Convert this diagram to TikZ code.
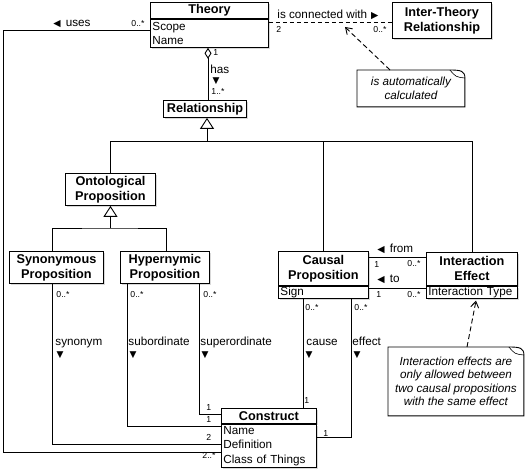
\documentclass[tikz,border=0pt]{standalone}
\usepackage{fontspec}
\setmainfont{Liberation Sans}
\newfontfamily\symfont{DejaVu Sans}
\usetikzlibrary{arrows.meta,shadows,positioning}
\newcommand\trileft{{\symfont\fontsize{9.5}{10}\selectfont ◀}}
\newcommand\triright{{\symfont\fontsize{9.5}{10}\selectfont ▶}}
\newcommand\tridown{{\symfont\fontsize{9}{10}\selectfont ▼}}

\begin{document}
\begin{tikzpicture}[x=1pt,y=-1pt,line width=0.9pt,
    box/.style={draw,fill=white,drop shadow={shadow xshift=2pt,shadow yshift=-2pt,opacity=0.3}},
    classname/.style={box,font=\fontsize{12.7}{15}\selectfont\bfseries,align=center,inner sep=1pt},
    attrs/.style={box,font=\fontsize{11.7}{14.5}\selectfont,align=left,inner xsep=2pt,inner ysep=0.5pt},
    mult/.style={font=\fontsize{8.7}{10}\selectfont,inner sep=0pt,anchor=base west},
    role/.style={font=\fontsize{11.7}{14}\selectfont,inner sep=0pt,anchor=base west},
    ptr/.style={inner sep=0pt},
    note/.style={font=\fontsize{11.7}{13.3}\selectfont\itshape,align=center,inner sep=0pt},
    gen/.style={-{Triangle[open,length=11pt,width=14pt]}},
    dep/.style={dash pattern=on 5pt off 3pt,-{Straight Barb[length=6pt,width=8pt]}},
    assoc/.style={dash pattern=on 4pt off 3pt}]
\useasboundingbox (0,0) rectangle (528,473);

% classes
\node[classname, minimum width=118pt, minimum height=16pt, anchor=north west] (theory) at (150,2) {Theory};
\node[attrs, text width=114pt, minimum height=28pt, anchor=north west] (theory-attr) at (theory.south west) {Scope\\Name};
\node[classname, minimum width=99pt, minimum height=36pt, anchor=north west] (itr) at (392,2) {Inter-Theory\\Relationship};
\node[classname, minimum width=83pt, minimum height=17pt, anchor=north west] (rel) at (163,100) {Relationship};
\node[classname, minimum width=90pt, minimum height=32pt, anchor=north west] (onto) at (65,173) {Ontological\\Proposition};
\node[classname, minimum width=94pt, minimum height=32pt, anchor=north west] (syn) at (9,251) {Synonymous\\Proposition};
\node[classname, minimum width=89pt, minimum height=32pt, anchor=north west] (hyp) at (120,251) {Hypernymic\\Proposition};
\node[classname, minimum width=90pt, minimum height=34pt, anchor=north west] (causal) at (278,251) {Causal\\Proposition};
\node[attrs, text width=86pt, minimum height=12pt, anchor=north west] (causal-attr) at (causal.south west) {Sign};
\node[classname, minimum width=91pt, minimum height=33pt, anchor=north west] (ie) at (426,252) {Interaction\\Effect};
\node[attrs, text width=87pt, minimum height=11.5pt, anchor=north west] (ie-attr) at (ie.south west) {Interaction Type};
\node[classname, minimum width=95pt, minimum height=15pt, anchor=north west] (construct) at (221,408) {Construct};
\node[attrs, text width=91pt, minimum height=43pt, anchor=north west] (construct-attr) at (construct.south west) {Name\\Definition\\Class of Things};

% notes
\node[note, minimum width=107pt, minimum height=36pt, anchor=north west] (note-calc) at (357,70) {};
\draw[fill=white] (note-calc.north west) -- ([xshift=-15pt]note-calc.north east)
  .. controls ([xshift=-4pt]note-calc.north east) and ([yshift=-1pt]note-calc.north east) .. ([yshift=-8pt]note-calc.north east)
  -- (note-calc.south east) -- (note-calc.south west) -- cycle;
\draw[line width=0.6pt] ([xshift=-15pt]note-calc.north east) .. controls ([xshift=-9pt,yshift=-7pt]note-calc.north east) .. ([yshift=-8pt]note-calc.north east);
\node[note] (note-calc-txt) at (note-calc.center) {is automatically\\calculated};
\node[note, minimum width=135pt, minimum height=68pt, anchor=north west] (note-ie) at (388,347) {};
\draw[fill=white] (note-ie.north west) -- ([xshift=-15pt]note-ie.north east)
  .. controls ([xshift=-4pt]note-ie.north east) and ([yshift=-1pt]note-ie.north east) .. ([yshift=-8pt]note-ie.north east)
  -- (note-ie.south east) -- (note-ie.south west) -- cycle;
\draw[line width=0.6pt] ([xshift=-15pt]note-ie.north east) .. controls ([xshift=-9pt,yshift=-7pt]note-ie.north east) .. ([yshift=-8pt]note-ie.north east);
\node[note] (note-ie-txt) at (note-ie.center) {Interaction effects are\\only allowed between\\two causal propositions\\with the same effect};

% connectors
\coordinate (assoc-mid) at (345,27);
\draw[assoc] (theory.east |- 0,22) -- (itr.west |- 0,22);
\draw[dep] (note-calc.north -| 390,0) -- (assoc-mid);
\draw[dep] (note-ie.north -| 467,0) -- ([yshift=-2pt]ie-attr.south -| 476,0);
\draw (theory-attr.west |- 0,30) -| (3,452) -- (construct-attr.west |- 0,452);
\draw[{Diamond[open,length=11pt,width=7pt]}-] (theory-attr.south -| 208,0) -- (rel.north -| 208,0);
\draw[gen] (207,141) -- (rel.south -| 207,0);
\draw (onto.north) |- (ie.north |- 0,141) -- (ie.north);
\draw (causal.north) -- (causal.north |- 0,141);
\draw[gen] (onto.south |- 0,228) -- (onto.south);
\draw (syn.north -| 52,0) |- (onto.south |- 0,228) -| (hyp.north -| 166,0);
\draw (syn.south -| 52,0) |- (construct-attr.west |- 0,444);
\draw (hyp.south -| 127,0) |- (construct-attr.west |- 0,426);
\draw (hyp.south -| 199,0) |- (construct.west |- 0,414);
\draw (causal-attr.south -| 303,0) -- (construct.north -| 303,0);
\draw (causal-attr.south -| 351,0) |- (construct-attr.east |- 0,437);
\draw (causal.east |- 0,257) -- (ie.west |- 0,257);
\draw (causal-attr.east |- 0,288) -- (ie-attr.west |- 0,288);

% labels
\node[role] (uses-lbl) at (53,27) {\trileft\hspace{5pt}uses};
\node[mult] (uses-m1) at (131,27) {0..*};
\node[mult] (has-m1) at (213,56) {1};
\node[role] (has-lbl) at (210,74) {has};
\node[ptr] (has-ptr) at (216,81.5) {\tridown};
\node[mult] (has-m2) at (211,95) {1..*};
\node[role] (conn-lbl) at (277,19) {is connected with\hspace{4pt}\triright};
\node[mult] (conn-m1) at (276,33) {2};
\node[mult] (conn-m2) at (373,33) {0..*};
\node[mult] (syn-m) at (56,298) {0..*};
\node[mult] (sub-m) at (130,298) {0..*};
\node[mult] (sup-m) at (203,298) {0..*};
\node[role] (syn-lbl) at (55,345) {synonym};
\node[role] (sub-lbl) at (128,345) {subordinate};
\node[role] (sup-lbl) at (200,345) {superordinate};
\node[ptr] (syn-ptr) at (60,355) {\tridown};
\node[ptr] (sub-ptr) at (133,355) {\tridown};
\node[ptr] (sup-ptr) at (205,355) {\tridown};
\node[mult] (sup-m2) at (206,410) {1};
\node[mult] (sub-m2) at (206,422) {1};
\node[mult] (syn-m2) at (206,440) {2};
\node[mult] (uses-m2) at (202,458) {2..*};
\node[mult] (cause-m) at (305,311) {0..*};
\node[mult] (effect-m) at (354,311) {0..*};
\node[role] (cause-lbl) at (306,345) {cause};
\node[role] (effect-lbl) at (352,345) {effect};
\node[ptr] (cause-ptr) at (309,355) {\tridown};
\node[ptr] (effect-ptr) at (357,355) {\tridown};
\node[mult] (cause-m2) at (304,403) {1};
\node[mult] (effect-m2) at (323,436) {1};
\node[role] (from-lbl) at (377,253) {\trileft\hspace{5pt}from};
\node[mult] (from-m1) at (374,268) {1};
\node[mult] (from-m2) at (407,267) {0..*};
\node[role] (to-lbl) at (377,283) {\trileft\hspace{5pt}to};
\node[mult] (to-m1) at (376,298) {1};
\node[mult] (to-m2) at (407,298) {0..*};
\end{tikzpicture}
\end{document}
